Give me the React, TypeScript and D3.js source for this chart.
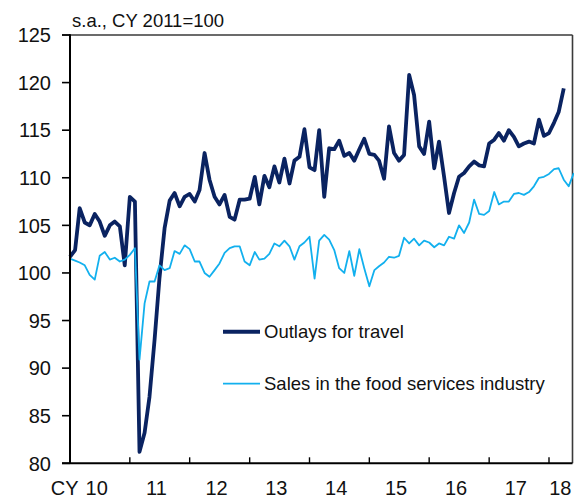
import React from 'react';
import * as d3 from 'd3';

// Monthly data starting January 2010 (s.a., CY 2011 = 100)
const START_YEAR = 2010;

const outlaysForTravel: number[] = [
  101.7, 102.4, 106.8, 105.3, 105.0, 106.2, 105.4, 103.9, 105.0, 105.4, 104.9, 100.8,
  108.0, 107.5, 81.2, 83.2, 87.0, 93.0, 99.5, 104.7, 107.6, 108.4, 107.0, 108.0,
  108.3, 107.5, 108.7, 112.6, 109.8, 108.0, 107.2, 108.2, 105.9, 105.6, 107.7, 107.7,
  107.8, 110.1, 107.2, 110.2, 109.0, 111.2, 109.5, 112.0, 109.4, 111.8, 112.2, 115.1,
  111.1, 110.8, 115.0, 108.0, 113.1, 113.0, 113.9, 112.3, 112.6, 111.8, 113.0, 114.1,
  112.5, 112.4, 111.8, 109.9, 115.4, 112.6, 111.8, 112.4, 120.8, 118.7, 113.3, 112.5,
  115.9, 111.0, 113.8, 110.1, 106.3, 108.4, 110.1, 110.5, 111.2, 111.7, 111.3, 111.2,
  113.6, 114.0, 114.7, 113.9, 115.0, 114.3, 113.3, 113.6, 113.8, 113.6, 116.1, 114.4,
  114.7, 115.8, 116.9, 119.4,
];

const foodServicesSales: number[] = [
  101.5, 101.3, 101.1, 100.8, 99.8, 99.3, 101.8, 102.2, 101.4, 101.6, 101.2, 101.4,
  101.9, 102.6, 90.9, 96.8, 99.1, 99.1, 100.8, 100.3, 100.5, 102.3, 102.0, 102.9,
  102.5, 101.2, 101.2, 100.0, 99.6, 100.3, 101.0, 102.1, 102.6, 102.8, 102.8, 101.2,
  100.8, 102.2, 101.4, 101.5, 102.0, 103.1, 102.8, 103.4, 102.8, 101.4, 102.8, 103.2,
  103.8, 99.4, 103.4, 104.0, 103.5, 102.4, 100.5, 100.0, 102.3, 99.7, 102.5, 100.5,
  98.6, 100.3, 100.7, 101.1, 101.7, 101.6, 101.8, 103.7, 103.1, 103.6, 102.9, 103.4,
  103.2, 102.7, 103.1, 102.9, 103.8, 103.6, 105.0, 104.2, 105.3, 107.7, 106.2, 106.1,
  106.5, 108.5, 107.2, 107.5, 107.5, 108.3, 108.4, 108.2, 108.5, 109.1, 110.0, 110.1,
  110.4, 110.9, 111.0, 109.8, 109.1, 110.5,
];

const yTicks: number[] = [80, 85, 90, 95, 100, 105, 110, 115, 120, 125];
const yearTicks: number[] = [2010, 2011, 2012, 2013, 2014, 2015, 2016, 2017, 2018];
const yearLabels: string[] = ['10', '11', '12', '13', '14', '15', '16', '17', '18'];
const seriesNames: string[] = ['Outlays for travel', 'Sales in the food services industry'];
const subtitle = 's.a., CY 2011=100';

const DARK = '#0a2361';
const LIGHT = '#12b0ee';
const FONT = '"Liberation Sans", Arial, Helvetica, sans-serif';

export default function App() {
  const W = 574;
  const H = 500;
  const left = 70;
  const right = 572.5;
  const top = 35;
  const bottom = 463.3;

  const x = d3
    .scaleTime()
    .domain([new Date(2010, 0, 1), new Date(2018, 0, 1)])
    .range([70, 549]);
  const y = d3.scaleLinear().domain([80, 125]).range([bottom, top]);
  const dateOf = (i: number) => new Date(START_YEAR, i, 1);

  const line = d3
    .line<number>()
    .x((_, i) => x(dateOf(i)))
    .y((d) => y(d));

  const tickFont = 20;
  const xLabelY = 495;

  return (
    <svg
      width={W}
      height={H}
      style={{ position: 'absolute', left: 0, top: 0, background: '#fff' }}
      fontFamily={FONT}
    >
      <rect x={0} y={0} width={W} height={H} fill="#fff" />

      {/* subtitle */}
      <text x={72} y={27} fontSize={18.5} fill="#111">
        {subtitle}
      </text>

      {/* frame: top and right */}
      <line x1={62} x2={right} y1={top} y2={top} stroke="#3a3a3a" strokeWidth={1.6} />
      <line x1={right} x2={right} y1={top} y2={bottom} stroke="#3a3a3a" strokeWidth={1.6} />

      {/* y ticks and labels */}
      {yTicks.map((t) => (
        <g key={t}>
          <line x1={62} x2={left} y1={y(t)} y2={y(t)} stroke="#000" strokeWidth={1.6} />
          <text
            x={51}
            y={y(t)}
            dy="0.36em"
            textAnchor="end"
            fontSize={tickFont}
            fill="#111"
          >
            {t}
          </text>
        </g>
      ))}

      {/* x ticks */}
      {yearTicks.map((yr) => (
        <line
          key={yr}
          x1={x(new Date(yr, 0, 1))}
          x2={x(new Date(yr, 0, 1))}
          y1={bottom}
          y2={bottom - 6}
          stroke="#000"
          strokeWidth={1.4}
        />
      ))}

      {/* x labels */}
      {yearTicks.map((yr, i) => {
        const last = i === yearTicks.length - 1;
        const mid = x(new Date(yr, 6, 1)) - 3;
        if (last) {
          return (
            <text key={yr} x={right - 1} y={xLabelY} textAnchor="end" fontSize={tickFont} fill="#111">
              {yearLabels[i]}
            </text>
          );
        }
        return (
          <g key={yr}>
            {i === 0 && (
              <text x={mid - 18} y={xLabelY} textAnchor="end" fontSize={tickFont} fill="#111">
                CY
              </text>
            )}
            <text x={mid} y={xLabelY} textAnchor="middle" fontSize={tickFont} fill="#111">
              {yearLabels[i]}
            </text>
          </g>
        );
      })}

      {/* series */}
      <path d={line(outlaysForTravel) || ''} fill="none" stroke={DARK} strokeWidth={3.8} strokeLinejoin="round" />
      <path d={line(foodServicesSales) || ''} fill="none" stroke={LIGHT} strokeWidth={1.8} strokeLinejoin="round" />

      {/* axes: left and bottom */}
      <line x1={left} x2={left} y1={top - 0.8} y2={bottom} stroke="#000" strokeWidth={2} />
      <line x1={62} x2={right} y1={bottom} y2={bottom} stroke="#000" strokeWidth={2} />

      {/* legend */}
      <line x1={223} x2={260} y1={331.7} y2={331.7} stroke={DARK} strokeWidth={4} />
      <text x={264} y={338.3} fontSize={18.5} fill="#111">
        {seriesNames[0]}
      </text>
      <line x1={223} x2={260} y1={383.7} y2={383.7} stroke={LIGHT} strokeWidth={1.8} />
      <text x={264} y={390.3} fontSize={18.5} fill="#111">
        {seriesNames[1]}
      </text>
    </svg>
  );
}
